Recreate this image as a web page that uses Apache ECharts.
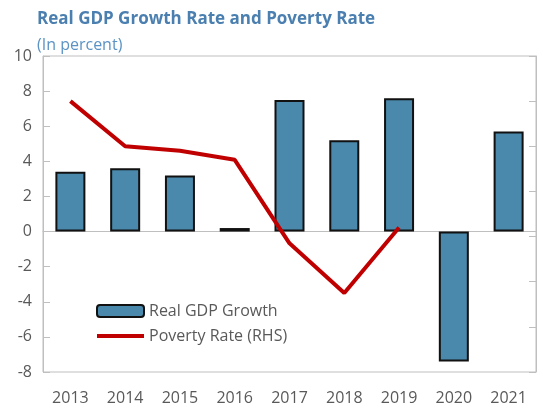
<!DOCTYPE html>
<html lang="en" style="height: 100%">
<head>
    <meta charset="utf-8">
</head>
<body style="height: 100%; margin: 0">
<div id="container" style="width: 543px; height: 408px"></div>
<script type="text/javascript" src="https://fastly.jsdelivr.net/npm/echarts@6/dist/echarts.min.js"></script>
<script type="text/javascript">

    const years = ['2013', '2014', '2015', '2016', '2017', '2018', '2019', '2020', '2021'];
    const gdpGrowth = [3.4, 3.6, 3.2, 0.2, 7.5, 5.2, 7.6, -7.4, 5.7];
    const povertyRate = [32.0, 30.0, 29.8, 29.4, 25.7, 23.5, 26.4, null, null];

    const font = '"Open Sans", "Noto Sans", sans-serif';
    const gray = '#595959';
    const axisGray = '#bfbfbf';

    var dom = document.getElementById('container');
    var myChart = echarts.init(dom, null, {
        renderer: 'canvas',
        useDirtyRect: false
    });

    const option = {
        animation: false,
        textStyle: { fontFamily: font },
        title: {
            text: 'Real GDP Growth Rate and Poverty Rate',
            subtext: '(In percent)',
            left: 32,
            top: 6,
            itemGap: 9,
            textStyle: { fontSize: 17, fontWeight: 'bold', color: '#4a7fb0', fontFamily: font },
            subtextStyle: { fontSize: 16, color: '#5b93c4', fontFamily: font }
        },
        legend: {
            orient: 'vertical',
            left: 91,
            top: 298,
            itemWidth: 47,
            itemHeight: 12,
            itemGap: 9,
            textStyle: { fontSize: 16, color: gray, fontFamily: font },
            data: [
                'Real GDP Growth',
                // plain red bar, no marker dot
                { name: 'Poverty Rate (RHS)', icon: 'path://M0,0h47v4h-47z' }
            ]
        },
        grid: {
            left: 43,
            right: 7,
            top: 56,
            bottom: 36,
            show: true,
            borderColor: axisGray,
            borderWidth: 1
        },
        xAxis: [
            {
                type: 'category',
                data: years,
                position: 'bottom',
                axisLine: { show: false, onZero: false },
                axisTick: { show: false },
                axisLabel: { fontSize: 16, color: gray, margin: 18 }
            },
            {
                type: 'category',
                data: years,
                axisLine: { onZero: true, lineStyle: { color: axisGray } },
                axisTick: { inside: true, length: 7, lineStyle: { color: axisGray } },
                axisLabel: { show: false }
            }
        ],
        yAxis: [
            {
                type: 'value',
                min: -8,
                max: 10,
                interval: 2,
                axisLine: { show: true, lineStyle: { color: axisGray } },
                axisTick: { show: true, inside: true, length: 7, lineStyle: { color: axisGray } },
                axisLabel: { fontSize: 16, color: gray, margin: 11 },
                splitLine: { show: false }
            },
            {
                type: 'value',
                min: 20,
                max: 34,
                interval: 2,
                position: 'right',
                axisLine: { show: true, lineStyle: { color: axisGray } },
                axisTick: { show: true, inside: true, length: 7, lineStyle: { color: axisGray } },
                axisLabel: { show: false },
                splitLine: { show: false }
            }
        ],
        series: [
            {
                name: 'Real GDP Growth',
                type: 'bar',
                data: gdpGrowth,
                barWidth: 30,
                itemStyle: { color: '#4a89ab', borderColor: '#111', borderWidth: 2 }
            },
            {
                name: 'Poverty Rate (RHS)',
                type: 'line',
                yAxisIndex: 1,
                data: povertyRate,
                symbol: 'none',
                color: '#c00000',
                lineStyle: { color: '#c00000', width: 4 }
            }
        ]
    };

    myChart.setOption(option);
    window.addEventListener('resize', myChart.resize);

</script>
</body>
</html>
